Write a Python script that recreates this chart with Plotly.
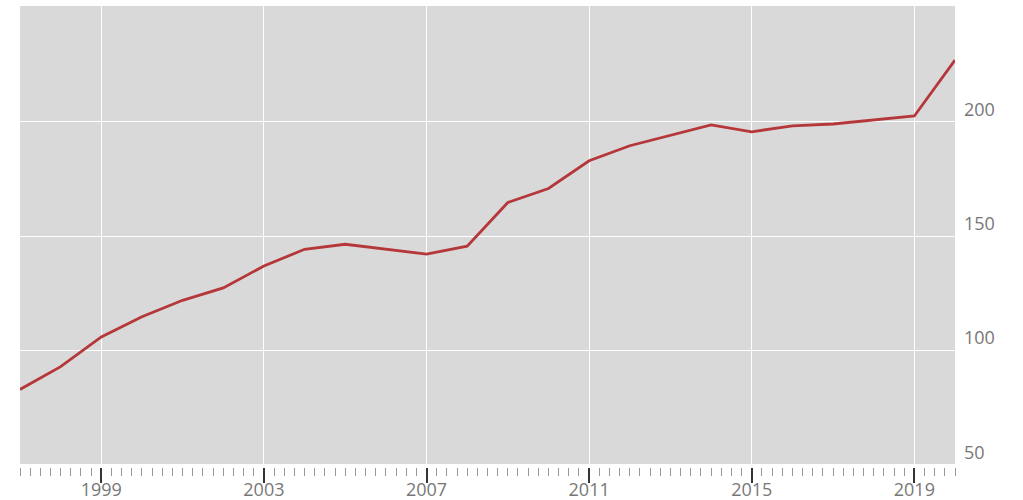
import plotly.graph_objects as go

years = list(range(1997, 2021))
values = [83, 93, 106, 114.8, 122, 127.4, 137, 144.3, 146.5, 144.3, 142.2, 145.7,
          164.8, 170.9, 183, 189.6, 194.3, 198.7, 195.7, 198.3, 199.1, 200.9, 202.6, 227]

x_ticks = [1999, 2003, 2007, 2011, 2015, 2019]
y_ticks = [50, 100, 150, 200]

fig = go.Figure()

# grey panel as a shape so the ticks sit a little below it
fig.add_shape(type="rect", xref="x", yref="y", x0=1997, x1=2020, y0=50, y1=251,
              fillcolor="#d9d9d9", line_width=0, layer="below")

fig.add_trace(go.Scatter(x=years, y=values, mode="lines",
                         line=dict(color="#b5373a", width=2.8),
                         hoverinfo="x+y", showlegend=False))

fig.update_xaxes(range=[1997, 2020], tickvals=x_ticks, ticktext=[str(t) for t in x_ticks],
                 showgrid=True, gridcolor="white", gridwidth=1.2,
                 ticks="outside", ticklen=15, tickcolor="#333", tickwidth=2,
                 ticklabelstandoff=-9,
                 tickfont=dict(family="Open Sans", size=18, color="#777"),
                 minor=dict(dtick=0.25, tick0=1997, ticks="outside", ticklen=8,
                            tickcolor="#999", tickwidth=1, showgrid=False),
                 showline=False, zeroline=False, automargin=False)

fig.update_yaxes(range=[49.1, 250.7], tickvals=y_ticks, side="right",
                 showgrid=True, gridcolor="white", gridwidth=1.2,
                 ticks="", ticklabelposition="outside top", ticklabelstandoff=8,
                 tickfont=dict(family="Open Sans", size=18, color="#777"),
                 showline=False, zeroline=False, automargin=False)

fig.update_layout(width=1023, height=500, margin=dict(l=20, r=68, t=6, b=33),
                  plot_bgcolor="white", paper_bgcolor="white")

# page body has a default margin, drop it so the figure sits at the corner
fig.write_html("out.html", config={"displayModeBar": False},
               post_script="document.body.style.margin='0';")
